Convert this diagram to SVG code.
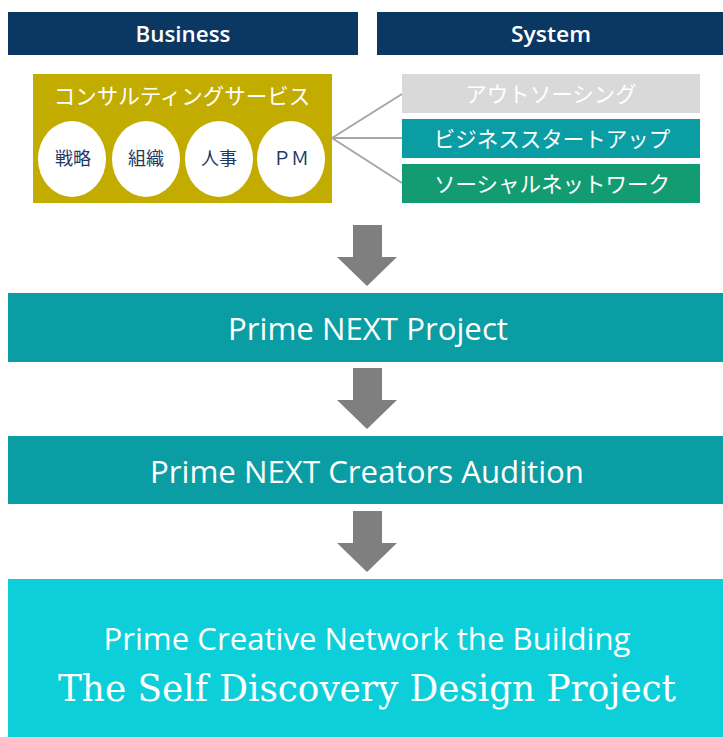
<svg xmlns="http://www.w3.org/2000/svg" width="723" height="737" viewBox="0 0 723 737">
<style>
.hdr{fill:#0B3863}
.ht{font-family:"Open Sans","Noto Sans",sans-serif;font-size:22px;font-weight:600;fill:#fff;text-anchor:middle}
.jp{font-family:"Noto Sans CJK JP","Noto Sans",sans-serif;fill:#fff;text-anchor:middle}
.ct{font-family:"Noto Sans CJK JP","Noto Sans",sans-serif;font-size:18px;fill:#1F3864;text-anchor:middle}
.bt{font-family:"Open Sans","Noto Sans",sans-serif;font-size:31px;fill:#fff;text-anchor:middle}
.arr{fill:#7F7F7F}
.ln{stroke:#A6A6A6;stroke-width:2;fill:none}
</style>
<rect width="723" height="737" fill="#fff"/>
<g id="business">
<rect class="hdr" x="8" y="12" width="350" height="43"/>
<text class="ht" x="183" y="42" textLength="95" lengthAdjust="spacingAndGlyphs">Business</text>
</g>
<g id="system">
<rect class="hdr" x="377" y="12" width="346" height="43"/>
<text class="ht" x="551" y="42" textLength="80" lengthAdjust="spacingAndGlyphs">System</text>
</g>
<g id="consulting">
<rect x="33" y="74" width="299" height="129" fill="#C3AC00"/>
<text class="jp" x="182" y="104" font-size="21.5">コンサルティングサービス</text>
<ellipse cx="72" cy="159" rx="34" ry="38" fill="#fff"/>
<ellipse cx="146" cy="159" rx="34" ry="38" fill="#fff"/>
<ellipse cx="219" cy="159" rx="34" ry="38" fill="#fff"/>
<ellipse cx="291" cy="159" rx="34" ry="38" fill="#fff"/>
<text class="ct" x="73" y="165">戦略</text>
<text class="ct" x="146" y="165">組織</text>
<text class="ct" x="219" y="165">人事</text>
<text class="ct" x="291" y="165">ＰＭ</text>
</g>
<g id="connectors">
<path class="ln" d="M332 138 L402 94 M332 138 L402 138 M332 138 L402 183"/>
<polygon class="arr" points="353,225 382,225 382,257 397,257 367,286 337,257 353,257"/>
<polygon class="arr" points="353,368 382,368 382,400 397,400 367,429 337,400 353,400"/>
<polygon class="arr" points="353,511 382,511 382,543 397,543 367,572 337,543 353,543"/>
</g>
<g id="outsourcing">
<rect x="402" y="74" width="298" height="39" fill="#D9D9D9"/>
<text class="jp" x="551" y="102" font-size="21.5" fill="#F2F2F2">アウトソーシング</text>
</g>
<g id="startup">
<rect x="402" y="119" width="298" height="39" fill="#0A9DA3"/>
<text class="jp" x="552" y="147" font-size="21.5">ビジネススタートアップ</text>
</g>
<g id="social">
<rect x="402" y="164" width="298" height="39" fill="#139C72"/>
<text class="jp" x="552" y="192" font-size="21.5">ソーシャルネットワーク</text>
</g>
<g id="project">
<rect x="8" y="293" width="715" height="69" fill="#0A9DA3"/>
<text class="bt" x="368" y="340" textLength="280" lengthAdjust="spacingAndGlyphs">Prime NEXT Project</text>
</g>
<g id="audition">
<rect x="8" y="436" width="715" height="68" fill="#0A9DA3"/>
<text class="bt" x="367" y="483" textLength="434" lengthAdjust="spacingAndGlyphs">Prime NEXT Creators Audition</text>
</g>
<g id="building">
<rect x="8" y="579" width="715" height="158" fill="#0DCFD9"/>
<text class="bt" x="367" y="650" font-size="30" textLength="527" lengthAdjust="spacingAndGlyphs">Prime Creative Network the Building</text>
<text x="367" y="701" font-family="'DejaVu Serif','Liberation Serif',serif" font-size="38" fill="#fff" text-anchor="middle" textLength="618" lengthAdjust="spacingAndGlyphs">The Self Discovery Design Project</text>
</g>
</svg>
